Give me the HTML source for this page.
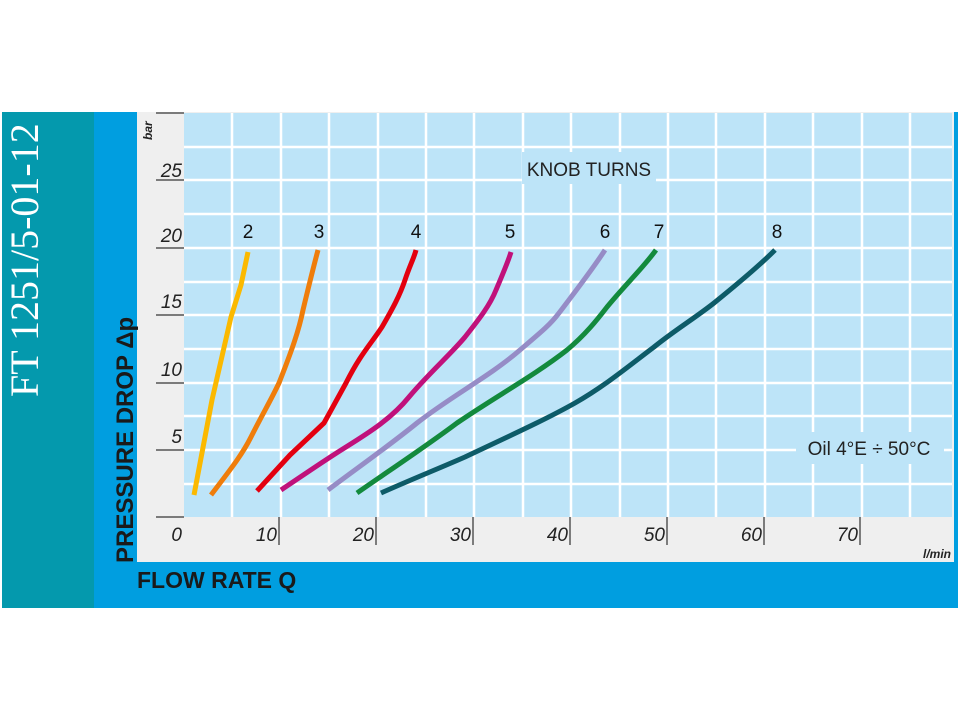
<!DOCTYPE html>
<html><head><meta charset="utf-8"><style>
html,body{margin:0;padding:0;background:#fff;}
svg{display:block;}
</style></head><body>
<svg width="961" height="721" viewBox="0 0 961 721" xmlns="http://www.w3.org/2000/svg" font-family="Liberation Sans, sans-serif">
<rect x="0" y="0" width="961" height="721" fill="#fff"/>
<rect x="2" y="112" width="92" height="496" fill="#0499ad"/>
<rect x="94" y="112" width="864" height="496" fill="#009ee0"/>
<rect x="137" y="112" width="817" height="450" fill="#efefef"/>
<rect x="184" y="113" width="768" height="404" fill="#bde4f8"/>
<g stroke="#fff" stroke-width="2.5">
<line x1="232" y1="113" x2="232" y2="517"/><line x1="281" y1="113" x2="281" y2="517"/>
<line x1="329" y1="113" x2="329" y2="517"/><line x1="378" y1="113" x2="378" y2="517"/>
<line x1="426" y1="113" x2="426" y2="517"/><line x1="474" y1="113" x2="474" y2="517"/>
<line x1="523" y1="113" x2="523" y2="517"/><line x1="571" y1="113" x2="571" y2="517"/>
<line x1="620" y1="113" x2="620" y2="517"/><line x1="668" y1="113" x2="668" y2="517"/>
<line x1="716" y1="113" x2="716" y2="517"/><line x1="765" y1="113" x2="765" y2="517"/>
<line x1="813" y1="113" x2="813" y2="517"/><line x1="862" y1="113" x2="862" y2="517"/>
<line x1="910" y1="113" x2="910" y2="517"/>
<line x1="184" y1="147" x2="952" y2="147"/><line x1="184" y1="180" x2="952" y2="180"/>
<line x1="184" y1="214" x2="952" y2="214"/><line x1="184" y1="248" x2="952" y2="248"/>
<line x1="184" y1="282" x2="952" y2="282"/><line x1="184" y1="315" x2="952" y2="315"/>
<line x1="184" y1="349" x2="952" y2="349"/><line x1="184" y1="383" x2="952" y2="383"/>
<line x1="184" y1="416" x2="952" y2="416"/><line x1="184" y1="450" x2="952" y2="450"/>
<line x1="184" y1="484" x2="952" y2="484"/>
</g>
<rect x="522" y="152" width="134" height="32" fill="#bde4f8"/>
<text x="589" y="176" font-size="19" text-anchor="middle" fill="#222">KNOB TURNS</text>
<rect x="796" y="432" width="148" height="32" fill="#bde4f8"/>
<text x="869" y="455" font-size="19" text-anchor="middle" fill="#222">Oil 4°E ÷ 50°C</text>
<g stroke="#555" stroke-width="1.5">
<line x1="156" y1="517" x2="184" y2="517"/><line x1="156" y1="450" x2="184" y2="450"/>
<line x1="156" y1="383" x2="184" y2="383"/><line x1="156" y1="315" x2="184" y2="315"/>
<line x1="156" y1="248" x2="184" y2="248"/><line x1="156" y1="180" x2="184" y2="180"/>
<line x1="156" y1="113" x2="184" y2="113"/>
<line x1="279" y1="517" x2="279" y2="545"/><line x1="376" y1="517" x2="376" y2="545"/>
<line x1="473" y1="517" x2="473" y2="545"/><line x1="570" y1="517" x2="570" y2="545"/>
<line x1="667" y1="517" x2="667" y2="545"/><line x1="764" y1="517" x2="764" y2="545"/>
<line x1="860" y1="517" x2="860" y2="545"/>
</g>
<g font-size="19" font-style="italic" fill="#222" text-anchor="end">
<text x="182" y="443">5</text><text x="182" y="376">10</text><text x="182" y="308">15</text>
<text x="182" y="242">20</text><text x="182" y="177">25</text>
<text x="182" y="541">0</text><text x="277" y="541">10</text><text x="374" y="541">20</text>
<text x="471" y="541">30</text><text x="568" y="541">40</text><text x="665" y="541">50</text>
<text x="762" y="541">60</text><text x="858" y="541">70</text>
</g>
<text x="951" y="558" font-size="12" font-weight="bold" font-style="italic" text-anchor="end" fill="#222">l/min</text>
<text transform="translate(152,140) rotate(-90)" font-size="12" font-weight="bold" font-style="italic" fill="#222">bar</text>
<text transform="translate(133,563) rotate(-90)" font-size="24" font-weight="bold" fill="#1a1a1a">PRESSURE DROP Δp</text>
<text x="137" y="588" font-size="23" font-weight="bold" fill="#1a1a1a">FLOW RATE Q</text>
<text transform="translate(38,397) rotate(-90)" font-size="40" font-family="Liberation Serif, serif" fill="#fff">FT 1251/5-01-12</text>
<g font-size="19" fill="#111" text-anchor="middle">
<text x="248" y="238">2</text><text x="319" y="238">3</text><text x="416" y="238">4</text>
<text x="510" y="238">5</text><text x="605" y="238">6</text><text x="659" y="238">7</text><text x="777" y="238">8</text>
</g>
<g fill="none" stroke-width="5" stroke-linejoin="round">
<path stroke="#fbb900" d="M194,495 L212,400 L231,317 L241,285 L248,252"/>
<path stroke="#ef7d0b" d="M211,495 C230,470 242,455 251,437 C262,415 271,400 279,383 C292,350 299,330 303,310 C309,285 314,265 318,250"/>
<path stroke="#e3000f" d="M257,491 L290,455 L324,423 L346,383 C360,355 370,345 382,327 C393,308 400,295 405,280 C410,265 414,258 416,250"/>
<path stroke="#c0117b" d="M281,490 C305,474 325,460 346,447 C370,432 392,418 409,397 C430,372 450,355 465,337 C480,318 490,305 496,290 C502,276 508,262 511,252"/>
<path stroke="#968cc6" d="M328,490 C360,466 390,445 417,423 C450,397 490,376 520,350 C540,333 550,325 559,313 C575,292 592,270 605,250"/>
<path stroke="#138a3d" d="M357,493 C390,470 425,447 457,423 C495,397 535,375 567,350 C585,335 597,320 607,307 C625,285 643,268 656,250"/>
<path stroke="#0d5b68" d="M381,493 C410,480 440,468 465,457 C505,438 545,420 575,403 C605,386 630,365 654,347 C675,330 695,318 714,303 C740,282 760,265 775,250"/>
</g>
</svg>
</body></html>
